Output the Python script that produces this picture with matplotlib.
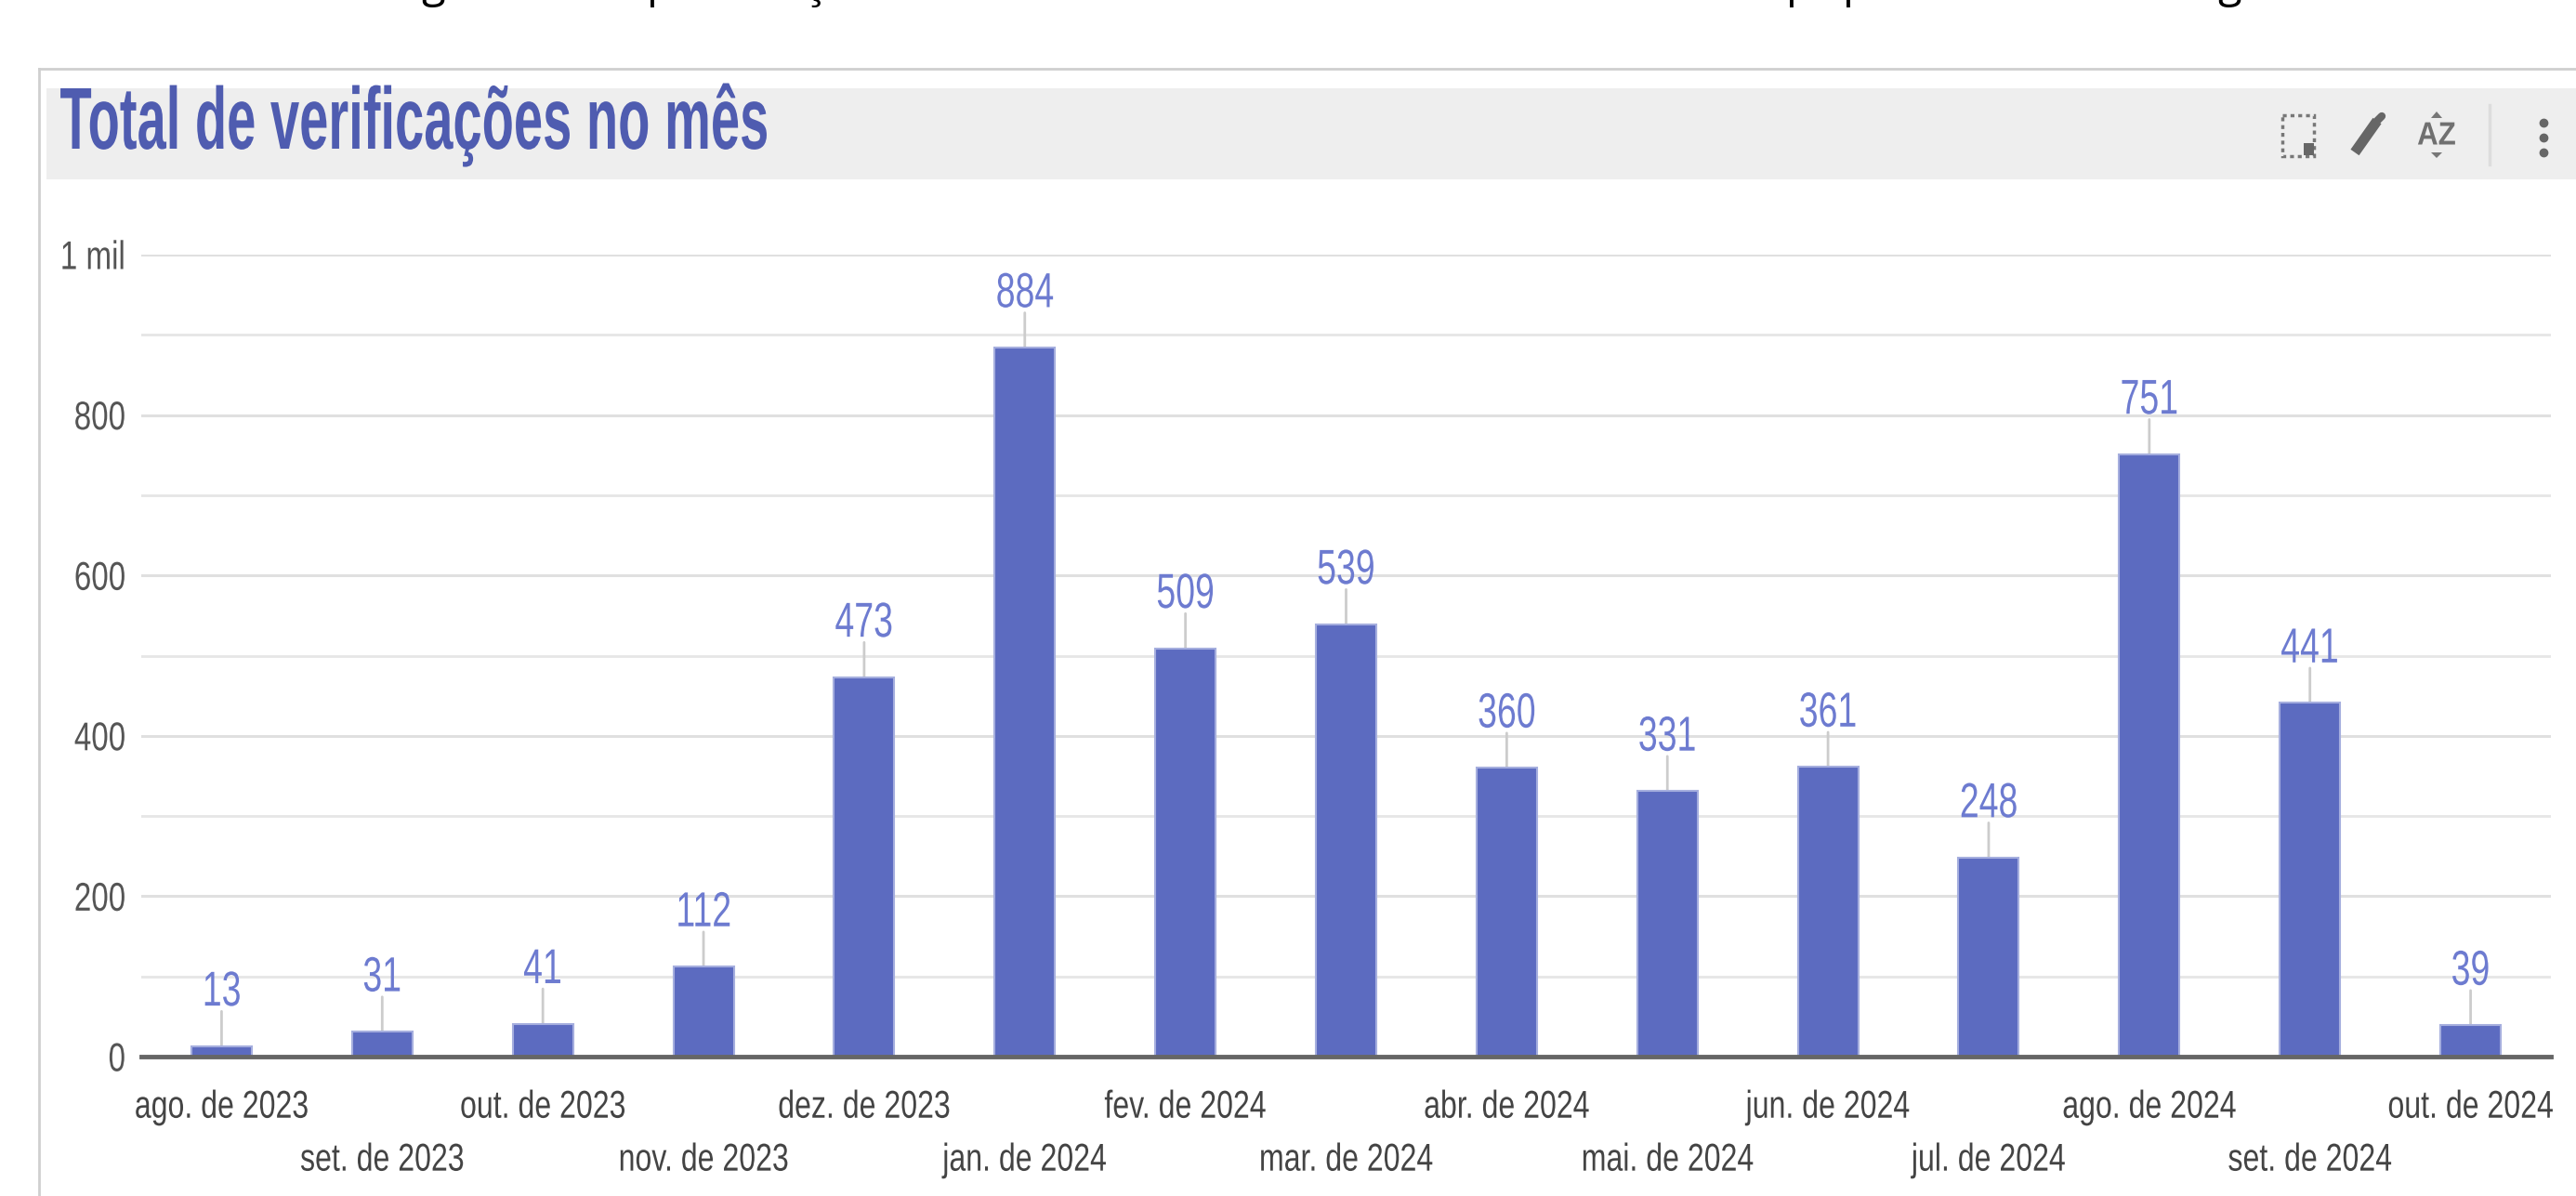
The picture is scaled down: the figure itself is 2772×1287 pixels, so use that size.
import matplotlib
matplotlib.use("Agg")
import matplotlib.pyplot as plt
from matplotlib.patches import Rectangle, Polygon
from matplotlib.patheffects import AbstractPathEffect
from matplotlib.transforms import Affine2D

W, H = 2772, 1287

meses = ["ago. de 2023", "set. de 2023", "out. de 2023", "nov. de 2023", "dez. de 2023",
         "jan. de 2024", "fev. de 2024", "mar. de 2024", "abr. de 2024", "mai. de 2024",
         "jun. de 2024", "jul. de 2024", "ago. de 2024", "set. de 2024", "out. de 2024"]
verificacoes = [13, 31, 41, 112, 473, 884, 509, 539, 360, 331, 361, 248, 751, 441, 39]
ticks_y = [0, 200, 400, 600, 800, 1000]
rotulos_y = ["0", "200", "400", "600", "800", "1 mil"]
ticks_menores = [100, 300, 500, 700, 900]

COR_BARRA = "#5c6bc0"
COR_ROTULO = "#6d7bd0"
COR_TITULO = "#4f5cb0"

plt.rcParams["font.family"] = ["Liberation Sans", "DejaVu Sans"]


class Estreito(AbstractPathEffect):
    """Aperta o texto na horizontal, a imagem original esta esticada na vertical."""

    def __init__(self, sx, ancora="center"):
        super().__init__()
        self.sx = sx
        self.ancora = ancora

    def draw_path(self, renderer, gc, tpath, affine, rgbFace=None):
        ext = tpath.get_extents(affine)
        px = {"left": ext.x0, "center": (ext.x0 + ext.x1) / 2, "right": ext.x1}[self.ancora]
        novo = affine + Affine2D().translate(-px, 0).scale(self.sx, 1).translate(px, 0)
        renderer.draw_path(gc, tpath, novo, rgbFace)


fig = plt.figure(figsize=(W / 100, H / 100), dpi=100, facecolor="white")

# camada de fundo em pixels (moldura, faixa do titulo, icones)
bg = fig.add_axes([0, 0, 1, 1], zorder=0)
bg.set_xlim(0, W)
bg.set_ylim(H, 0)
bg.axis("off")
bg.plot([42, W], [74, 74], color="#cfcfcf", lw=2)
bg.plot([42, 42], [74, H], color="#cfcfcf", lw=2)
bg.add_patch(Rectangle((50, 95), W - 50, 98, color="#eeeeee", lw=0))

bg.text(64, 160, "Total de verificações no mês", color=COR_TITULO, fontsize=68,
        fontweight="bold", va="baseline", ha="left",
        path_effects=[Estreito(0.594, "left")])

# icones da barra
bg.add_patch(Rectangle((2456, 124), 34, 44, fill=False, ec="#777777", lw=2.5, ls=(0, (1.2, 1.2))))
bg.add_patch(Rectangle((2479, 154), 11, 13, color="#666666", lw=0))
bg.plot([2534, 2558], [164, 130], color="#666666", lw=8, solid_capstyle="butt")
bg.plot([2558, 2563], [130, 125], color="#666666", lw=6, solid_capstyle="round")
bg.text(2622, 146, "AZ", color="#707070", fontsize=25, fontweight="bold", ha="center", va="center",
        path_effects=[Estreito(0.9)])
bg.add_patch(Polygon([[2616, 127], [2628, 127], [2622, 120]], color="#777777", lw=0))
bg.add_patch(Polygon([[2616, 164], [2628, 164], [2622, 170]], color="#777777", lw=0))
bg.plot([2679, 2679], [113, 177], color="#dddddd", lw=2.5)
bg.plot([2737, 2737, 2737], [132, 148, 164], "o", color="#666666", ms=6)

# restos do texto cortado no topo da imagem
for x, letra in [(466, "g"), (710, "p"), (876, "ç"), (1936, "p"), (1997, "p"), (2399, "g")]:
    bg.text(x, -3, letra, color="black", fontsize=34, fontfamily="Open Sans",
            ha="center", va="baseline", clip_on=False)

# grafico principal
ax = fig.add_axes([152 / W, 1 - 1137 / H, (2745 - 152) / W, (1137 - 274) / H], zorder=1)
ax.patch.set_alpha(0)
x = list(range(len(meses)))
ax.bar(x, verificacoes, width=65 / 172.87, color=COR_BARRA, edgecolor="#a5aede", linewidth=1.5, zorder=3)
ax.set_xlim(-0.5, len(meses) - 0.5)
ax.set_ylim(0, 1000)

for s in ["top", "left", "right"]:
    ax.spines[s].set_visible(False)
ax.spines["bottom"].set_color("#666666")
ax.spines["bottom"].set_linewidth(3.5)
ax.spines["bottom"].set_zorder(4)

ax.set_yticks(ticks_y)
ax.set_yticklabels(rotulos_y, fontsize=31, color="#555555")
ax.set_yticks(ticks_menores, minor=True)
ax.grid(axis="y", which="major", color="#e0e0e0", lw=2.2, zorder=0)
ax.grid(axis="y", which="minor", color="#e6e6e6", lw=2, zorder=0)
ax.tick_params(axis="y", which="both", length=0, pad=12)
for t in ax.get_yticklabels():
    t.set_path_effects([Estreito(0.77, "right")])

# rotulos do eixo x em duas linhas alternadas
ax.set_xticks(x[0::2])
ax.set_xticklabels(meses[0::2], fontsize=30, color="#444444")
ax.set_xticks(x[1::2], minor=True)
ax.set_xticklabels(meses[1::2], minor=True, fontsize=30, color="#444444")
ax.tick_params(axis="x", which="major", length=0, pad=25)
ax.tick_params(axis="x", which="minor", length=0, pad=66)
for t in ax.get_xticklabels() + ax.get_xticklabels(minor=True):
    t.set_path_effects([Estreito(0.77)])

# valores com linha-guia acima de cada barra
for i, v in zip(x, verificacoes):
    ax.annotate("", xy=(i, v), xytext=(0, 27), xycoords="data", textcoords="offset points",
                arrowprops=dict(arrowstyle="-", color="#cccccc", lw=2, shrinkA=0, shrinkB=0), zorder=2)
    ax.annotate(str(v), xy=(i, v), xytext=(0, 41.5), textcoords="offset points", ha="center",
                va="center", fontsize=38, color=COR_ROTULO, zorder=5,
                path_effects=[Estreito(0.71)])

fig.savefig("out.png", dpi=100)
